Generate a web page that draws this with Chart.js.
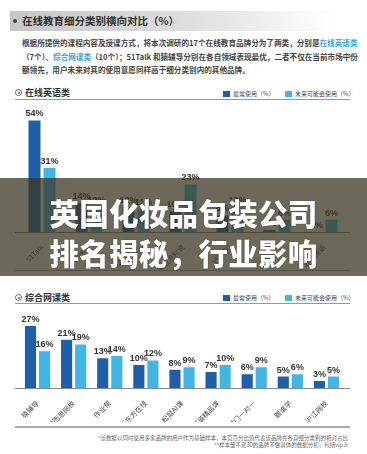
<!DOCTYPE html>
<html>
<head>
<meta charset="utf-8">
<script src="https://cdn.jsdelivr.net/npm/chart.js@4.4.1/dist/chart.umd.min.js"></script>
<style>
body{margin:0;width:367px;height:454px;background:#fff;position:relative;overflow:hidden;font-family:"Liberation Sans","Noto Sans CJK SC",sans-serif;}
.abs{position:absolute;}
.titlebar{left:10px;top:11px;width:325px;height:20px;background:linear-gradient(to right,#c6c6c6,#dedede 55%,#fff);}
.bullet{left:13px;top:19px;width:4px;height:4px;border-radius:50%;background:#444;}
.title{left:22px;top:11px;line-height:20px;font-size:10.5px;font-weight:bold;color:#333;font-family:"Noto Sans CJK SC",sans-serif;white-space:nowrap;}
.para{left:22px;top:36px;font-size:7.6px;line-height:13.5px;color:#444;font-weight:bold;font-family:"Noto Sans CJK SC",sans-serif;white-space:nowrap;}
.para .hl{color:#3aa3dd;}
.ring{width:5px;height:5px;border:1px solid #666;border-radius:50%;}
.ring:after{content:"";position:absolute;left:1.5px;top:1.5px;width:2px;height:2px;background:#666;border-radius:50%;}
.sec{font-size:9px;font-weight:bold;color:#333;font-family:"Noto Sans CJK SC",sans-serif;white-space:nowrap;}
.rule{left:15px;width:335px;height:1px;background:#999;}
.leg{font-size:6px;color:#444;font-family:"Noto Sans CJK SC",sans-serif;white-space:nowrap;}
.sq{width:7px;height:6px;}
.band{left:0;top:178px;width:367px;height:98px;background:rgba(60,55,35,0.75);}
.big{left:0;width:367px;text-align:center;color:#fff;font-size:29.5px;font-weight:900;font-family:"Noto Sans CJK SC",sans-serif;letter-spacing:0.3px;line-height:36px;text-shadow:0 0 2px rgba(0,0,0,0.3);}
.note{right:19px;top:435px;text-align:right;font-size:5.5px;line-height:7px;color:#666;font-family:"Noto Sans CJK SC",sans-serif;white-space:nowrap;}
canvas{position:absolute;}
</style>
</head>
<body>
<div class="abs titlebar"></div>
<div class="abs bullet"></div>
<div class="abs title">在线教育细分类别横向对比（%）</div>
<div class="abs para">根据所提供的课程内容及授课方式，将本次调研的17个在线教育品牌分为了两类，分别是<span class="hl">在线英语类</span><br>（7个）、<span class="hl">综合网课类</span>（10个）；51Talk 和猿辅导分别在各自领域表现最优，二者不仅在当前市场中份<br>额领先，用户未来对其的使用意愿同样高于细分类别内的其他品牌。</div>

<div class="abs ring" style="left:15px;top:89px;"></div>
<div class="abs sec" style="left:25px;top:86px;">在线英语类</div>
<div class="abs rule" style="top:99px;"></div>
<div class="abs sq" style="left:223px;top:91px;background:#1f5fa9;"></div>
<div class="abs leg" style="left:233px;top:89px;">最常使用（%）</div>
<div class="abs sq" style="left:285px;top:91px;background:#41b6e6;"></div>
<div class="abs leg" style="left:295px;top:89px;">未来可能会使用（%）</div>
<canvas id="topChart" width="335" height="170" style="left:15px;top:100px;"></canvas>
<div class="abs rule" style="top:270px;background:#aaa;"></div>

<div class="abs ring" style="left:15px;top:294px;"></div>
<div class="abs sec" style="left:25px;top:291px;">综合网课类</div>
<div class="abs rule" style="top:303px;"></div>
<div class="abs sq" style="left:223px;top:295px;background:#1f5fa9;"></div>
<div class="abs leg" style="left:233px;top:293px;">最常使用（%）</div>
<div class="abs sq" style="left:285px;top:295px;background:#41b6e6;"></div>
<div class="abs leg" style="left:295px;top:293px;">未来可能会使用（%）</div>
<canvas id="botChart" width="335" height="116" style="left:15px;top:306px;"></canvas>
<div class="abs rule" style="top:426px;height:2px;background:#aaa;"></div>
<div class="abs note">*该数据以同时使用多家品牌的用户作为基础样本，本页百分比值代表该品牌在各自细分类别的相对占比<br>**样本量不足30的品牌不做具体的数据分析，包括vipJr</div>

<div class="abs band"></div>
<div class="abs big" style="top:194px;">英国化妆品包装公司</div>
<div class="abs big" style="top:234px;">排名揭秘，行业影响</div>

<script>
// 在线英语类
const topLabels = ["51Talk", "VIPKID", "哒哒英语", "英语流利说", "VIPABC", "阿卡索", "沪江英语"];
const topOften = [54, 14, 12, 10, 8, 1, 0];
const topFuture = [31, 12, 11, 23, 12, 6, 6];

// 综合网课类
const botLabels = ["猿辅导", "学而思网校", "作业帮", "新东方在线", "松鼠AI课", "有道精品课", "掌门一对一", "跟谁学", "沪江网校"];
const botOften = [27, 21, 13, 10, 8, 7, 6, 5, 3];
const botFuture = [16, 19, 14, 12, 9, 10, 9, 6, 5];

const darkBlue = "#1f5fa9";
const lightBlue = "#41b6e6";

const valueLabels = {
    id: "valueLabels",
    afterDatasetsDraw(chart) {
        const ctx = chart.ctx;
        ctx.save();
        ctx.font = 'bold 9px "Liberation Sans", sans-serif';
        ctx.fillStyle = "#333";
        ctx.textAlign = "center";
        ctx.textBaseline = "bottom";
        chart.data.datasets.forEach((ds, i) => {
            chart.getDatasetMeta(i).data.forEach((bar, j) => {
                ctx.fillText(ds.data[j] + "%", bar.x, bar.y - 2);
            });
        });
        ctx.restore();
    }
};

const baseLine = {
    id: "baseLine",
    afterDatasetsDraw(chart) {
        const ctx = chart.ctx;
        const y = Math.round(chart.scales.y.getPixelForValue(0)) + 0.5;
        ctx.save();
        ctx.strokeStyle = "#888";
        ctx.lineWidth = 1.2;
        ctx.beginPath();
        ctx.moveTo(0, y);
        ctx.lineTo(chart.width, y);
        ctx.stroke();
        ctx.restore();
    }
};

function makeChart(id, labels, often, future, opts) {
    return new Chart(document.getElementById(id), {
        type: "bar",
        data: {
            labels: labels,
            datasets: [
                { label: "最常使用（%）", data: often, backgroundColor: darkBlue },
                { label: "未来可能会使用（%）", data: future, backgroundColor: lightBlue }
            ]
        },
        options: {
            responsive: false,
            animation: false,
            categoryPercentage: opts.cat,
            barPercentage: opts.bar,
            layout: { padding: opts.padding },
            plugins: { legend: { display: false }, tooltip: { enabled: false } },
            scales: {
                x: {
                    grid: { display: false },
                    border: { display: false },
                    ticks: {
                        autoSkip: false,
                        maxRotation: 45,
                        minRotation: 45,
                        padding: 3,
                        color: "#444",
                        font: { size: 7, family: '"Noto Sans CJK SC", sans-serif' }
                    },
                    afterFit(scale) {
                        scale.height = opts.axisHeight;
                        scale.paddingLeft = 0;
                        scale.paddingRight = 0;
                    }
                },
                y: { display: false, min: 0, max: opts.max }
            }
        },
        plugins: [valueLabels, baseLine]
    });
}

makeChart("topChart", topLabels, topOften, topFuture, {
    cat: 0.64, bar: 0.8, max: 60, axisHeight: 38,
    padding: { top: 8, left: 3.5, right: 2.5, bottom: 0 }
});

makeChart("botChart", botLabels, botOften, botFuture, {
    cat: 0.78, bar: 0.79, max: 34, axisHeight: 34,
    padding: { top: 4, left: 4.5, right: 5.5, bottom: 0 }
});
</script>
</body>
</html>
